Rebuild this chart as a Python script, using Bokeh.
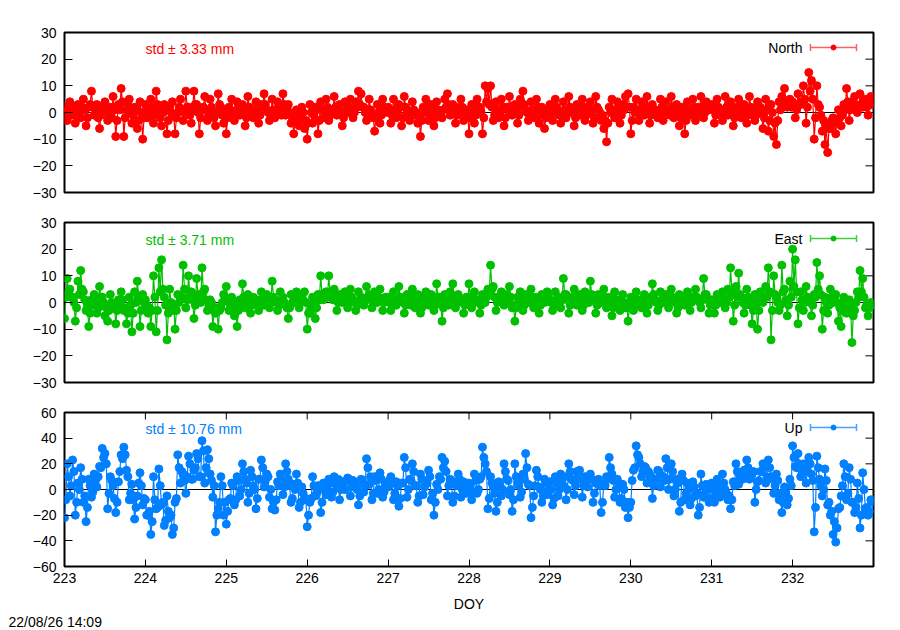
import math
from bokeh.plotting import figure
from bokeh.layouts import column
from bokeh.models import FixedTicker, Span, Label, Range1d
from bokeh.embed import file_html
from bokeh.resources import INLINE

# ---------------- data (mm), 60 solutions per day, DOY 223..232 ----------------
SAMPLES_PER_DAY = 60
FIRST_DOY = 223

north = [
    2,0, -3,1, 4,-1, 1,2, -4,-1, 3,0, -2,2, 5,1, -5,-2, 2,3, 8,2, -1,0, 3,-2, -6,-1, 1,2, 4,0, -3,1, 2,-2, 6,1, -9,-3, 3,1, 9,4, -9,-2, 1,3, 5,0, -4,-1, 2,1, -6,-3, 4,0, -10,-2,
    3,1, -2,0, 5,2, -4,-1, 8,3, 1,-2, -5,0, 3,1, -8,-3, 2,0, 4,-1, -8,-2, 0,2, 5,1, -3,0, 8,2, 2,-1, -4,1, 8,3, 3,0, -8,-2, 1,2, 6,1, -3,-1, 5,2, 0,-2, -5,0, 7,3, 2,-1, -4,0,
    -8,-2, 2,1, 5,0, -3,-1, 4,2, -1,0, 3,1, -5,-2, 6,2, 0,-1, -2,1, 4,0, -4,-1, 3,2, 7,3, 1,0, -3,-1, 5,1, -2,0, 4,2, 2,-1, 7,3, -1,1, 3,0, -4,-2, -8,-3, 1,0, -5,-2, 2,0, -6,-3,
    -10,-4, 3,0, -4,-1, 2,1, -8,-3, 4,1, -2,0, 5,2, -3,-1, 1,0, 6,2, -1,1, 3,0, -5,-2, 4,1, 0,2, 5,1, -2,0, 4,2, 8,3, 7,2, 2,0, -3,-1, 5,1, -1,-2, -7,-2, 3,0, -4,-1, 5,2, 0,1,
    2,0, -4,-1, 5,1, -2,0, 3,2, -5,-2, 6,2, 1,0, -3,-1, 4,1, -1,0, -4,-2, -9,-3, 2,0, 5,1, -3,-1, 3,1, -5,-2, 4,1, 0,-1, -2,1, 5,2, 7,3, -1,0, 3,1, -4,-1, 2,0, 5,2, -3,-1, 1,0,
    -8,-2, 3,0, -4,-1, 5,2, 2,0, -8,-2, 10,4, 9,3, 10,2, -3,-1, 4,1, -2,0, 5,2, -5,-2, 2,1, 6,2, -1,0, 3,1, -4,-1, 5,2, 8,3, 1,0, -3,-1, 4,1, -2,0, 5,2, -4,-1, 2,0, -6,-2, -1,1,
    3,1, -3,0, 5,2, 1,-1, -4,-1, 4,1, -2,0, 6,2, 0,1, -5,-2, 3,0, -1,1, 5,2, -3,-1, 2,0, 4,1, -4,-2, 6,2, 1,0, -3,-1, -6,-3, -11,-4, 2,0, 5,1, -2,0, 4,2, -4,-1, 3,1, 6,2, 7,2,
    -8,-3, 2,0, 5,1, -3,-1, 4,2, -1,0, 6,2, -4,-1, 3,1, 1,0, -2,-1, 5,2, -3,0, 4,1, 0,-1, 6,2, -2,0, 3,1, -5,-2, 2,0, -8,-3, 4,1, -1,0, 5,2, -3,-1, 2,1, 6,2, -2,0, 4,1, 1,2,
    3,1, -4,-1, 5,2, 1,0, -3,-1, 6,2, -1,0, 4,1, -5,-2, 2,0, 5,2, -2,0, 3,1, -4,-1, 6,2, 0,1, -3,-1, 4,2, 2,0, -6,-2, 5,1, -7,-3, 3,0, -9,-4, -12,-3, 4,1, 6,3, 9,4, 2,3, 5,2,
    4,2, -2,1, 7,3, 3,4, 10,5, -4,2, 15,8, 12,5, -10,-2, 10,3, 2,-1, -7,-3, -12,-5, -15,-6, -6,-3, -2,-4, -8,-3, 1,-2, -5,-1, 3,1, 9,4, -3,1, 4,2, 6,3, 0,2, 7,3, 2,4, 5,2, -1,3, 6,3,
]

east = [
    -6,2, 9,4, 5,2, 2,0, -7,-2, 8,3, 12,5, 4,1, -3,-1, -9,-4, 1,-1, 3,0, -4,-2, 6,2, 2,0, -5,-2, -7,-3, 3,0, -2,-1, -8,-3, 1,-1, 4,1, -3,-2, -8,-4, 2,-1, -11,-4, 4,0, 8,2, -9,-3, 3,0,
    1,-1, -4,-2, -9,-3, 10,2, -11,-3, 13,4, 16,5, 2,-1, -14,-4, 5,0, -3,-1, -10,-3, 3,0, 1,2, 14,5, -2,1, 10,3, 4,1, -6,-1, 9,3, 2,0, 13,4, 5,1, -3,-1, 1,0, -9,-3, -4,-2, -10,-3, -2,0, 3,1,
    6,1, -3,-1, 2,0, -5,-2, -9,-3, 1,0, 7,2, -2,-1, 3,1, -4,-1, 2,0, 0,1, -3,-1, 4,1, -1,0, 3,1, -2,0, 8,2, 1,0, -3,-1, 4,1, 2,0, -1,-2, -6,-2, 3,0, 0,1, 4,1, -2,0, 2,1, 4,0,
    -10,-4, -4,-2, 2,0, -6,-2, 3,1, 10,3, 1,2, 4,2, 10,3, 2,1, 5,2, -3,0, 3,1, 0,2, 4,1, -2,0, 5,2, 1,0, -3,-1, 4,1, 2,0, -1,1, 6,2, 3,1, -2,0, 4,1, 0,2, 5,1, -3,0, 2,1,
    2,0, -3,-1, 4,1, -1,0, 6,2, 1,0, -4,-1, 3,1, 0,-1, 5,2, -2,0, 3,1, -4,-2, 2,0, 4,1, -1,0, 3,1, -3,-1, 7,2, 2,0, -7,-2, 3,1, 0,-1, 4,1, 7,2, -2,0, 3,1, 1,0, -4,-1, 2,0,
    7,2, -2,0, 4,1, 1,0, -4,-1, 3,1, 0,2, 5,3, 14,5, 6,2, -3,0, 2,1, 4,2, -1,0, 3,1, 6,2, -2,-1, -7,-2, 2,0, 4,1, -3,-1, 3,1, 1,0, 5,2, -2,-1, 2,0, -4,-1, 3,1, 0,1, 4,2,
    1,0, -3,-1, 4,1, 2,0, -2,1, 9,3, 3,1, -4,-1, 2,0, 5,2, -1,0, 3,1, -3,-1, 4,2, 1,0, 8,3, 2,1, -4,-1, 3,0, 0,1, 5,2, -2,0, 2,1, -5,-2, 4,1, 1,0, -3,-1, 3,0, -2,-1, -7,-2,
    2,0, -3,-1, 4,1, 1,0, -2,-1, 3,1, -4,-1, 2,1, 7,3, 1,0, -3,-1, 4,1, 0,2, 3,1, -2,0, 5,2, 1,0, -4,-2, 3,1, 2,0, -1,1, 4,2, -3,0, 2,1, 5,2, 1,0, -2,1, 9,3, 3,1, -4,-1,
    1,0, -4,-1, 3,1, 0,2, 4,1, -2,0, 5,2, 13,4, -7,-1, 6,2, 11,3, 2,0, -4,-1, 5,2, 1,-1, -8,-3, 3,0, -10,-3, 4,1, 0,2, 6,2, 13,4, -14,-3, 10,3, 2,0, -3,-1, 14,4, 5,1, -5,-1, 8,2,
    20,6, 16,4, -8,-2, 4,1, -3,0, 6,2, 1,0, -5,-1, 3,2, 15,5, 10,3, -10,-3, 2,0, -4,-1, 5,2, 0,1, 3,0, -7,-2, -9,-3, 2,0, -4,-2, 1,-1, -15,-5, -3,0, 4,2, 12,4, 9,2, -2,-1, -5,-2, 0,-1,
]

up = [
    -22,-8, 20,10, -5,3, 23,14, -20,-10, 5,0, 17,8, -10,-5, -25,-14, 8,3, -6,-2, 12,7, 2,10, 18,17, 32,25, 28,20, -15,-3, 10,7, 3,-7, -18,-10, 6,14, 27,24, 33,27, 15,10, -8,-3, 4,-8, -23,-14, -5,5, 13,3, -12,-7,
    -8,-20, -20,-17, -35,-25, 10,-8, -15,-14, 16,3, -12,-10, -28,-24, -5,-17, -22,-20, -35,-30, -10,-7, 27,17, 5,14, 12,7, -3,10, 26,20, 8,8, 15,17, 28,24, 10,10, 38,30, 5,17, 31,24, 12,7, -6,3, -33,-20, -15,-10, 10,3, -20,-10,
    -27,-17, -8,-7, 5,3, -12,-8, 10,7, -5,0, 20,14, 8,5, -10,-3, 15,10, 3,0, -15,-7, 8,8, 23,17, 2,7, 12,10, -6,0, -15,-10, -16,-8, 6,3, 12,8, -4,2, 20,14, 8,3, -10,-7, 4,0, 12,5, -14,-10, 2,-3, -8,-7,
    -29,-20, -10,-7, 10,3, -5,-3, 3,0, -18,-10, 5,3, -4,0, 8,5, -6,-2, 10,7, 2,8, -8,0, 6,5, 0,7, 9,8, -5,2, 7,5, 3,0, -12,-5, 8,7, -2,3, 24,17, 4,10, -8,-3, 10,7, -3,0, 13,8, -6,-2, 4,3,
    2,7, 10,5, -8,-3, 6,3, -13,-7, 5,5, 25,17, -6,0, 8,7, 20,14, 3,3, -10,-5, 12,8, -4,2, 6,5, 15,10, -8,-3, -20,-10, 4,0, 10,8, 25,17, 22,14, -5,3, 8,7, -10,-5, 4,3, 12,8, -6,0, 6,5, -3,0,
    5,3, -8,-3, 12,7, -3,0, 8,10, 33,25, 20,14, -15,-7, 10,5, 2,-3, -17,-10, 6,3, -5,0, 20,14, 8,7, -4,0, -17,-8, 20,10, 5,3, -6,-2, 12,8, 28,17, 4,3, -22,-14, -5,3, 15,10, 2,0, -10,-5, 8,5, -4,0,
    6,0, -12,-7, 10,5, -5,0, 12,8, 3,10, -8,0, 20,14, 8,7, -4,3, 14,10, 15,8, -6,3, 10,7, 2,10, 12,8, -10,-3, 5,5, 8,3, -18,-10, 4,3, 10,8, 25,17, 12,7, -6,0, 8,5, -10,-7, 4,0, -14,-10, -22,-14,
    -10,7, 15,17, 34,27, 25,20, 10,14, 18,17, 5,14, 12,10, -7,3, 8,8, 15,14, 2,10, 10,7, 24,17, 0,8, 20,14, -5,0, 8,5, -17,-10, 12,7, -8,-3, 5,0, -12,-7, 6,2, -5,-3, -20,-14, 12,3, -6,-3, 4,0, -10,-7,
    5,0, -10,-5, 8,3, -6,0, 12,5, 0,-3, -8,-5, -15,-8, 6,3, 20,14, 4,10, 10,8, 15,14, 23,17, 8,10, 12,14, -10,0, 6,7, 14,14, 20,17, 5,10, 23,17, 10,8, -3,3, 12,7, -8,-3, -18,-10, 2,-3, -12,-7, 8,3,
    34,25, 18,17, 28,20, 10,14, 20,17, 5,14, 25,20, 12,7, -33,-14, 26,17, 8,3, -5,0, 16,7, -12,-10, -20,-17, -35,-25, -41,-30, -15,-14, -5,3, 20,10, -8,-3, 17,8, -10,-10, -18,-14, 5,-7, -30,-20, 13,0, -15,-14, -20,-17, -8,-10,
]

doy = [FIRST_DOY + i / SAMPLES_PER_DAY for i in range(len(north))]

x_ticks = [223, 224, 225, 226, 227, 228, 229, 230, 231, 232]
ne_ticks = [-30, -20, -10, 0, 10, 20, 30]
up_ticks = [-60, -40, -20, 0, 20, 40, 60]

std_north, std_east, std_up = "3.33", "3.71", "10.76"
title_text = "Coordinate repeatability of STR2"
x_title = "DOY"
stamp_text = "22/08/26 14:09"

# ---------------- layout (page pixels) ----------------
X0, X1 = 223, 233
FX0, FX1 = 64, 873
W = 890
FONT = "Liberation Sans"
FS = "14px"
MARK = 8

panels = [
    dict(name="North", label="North [mm]", data=north, color="#ff0000", leg="#ff6060",
         yr=(-30, 30), ticks=ne_ticks, std=std_north, fy0=32, fy1=192, top=32, bottom=15, h=207,
         key_y=47, std_y=48),
    dict(name="East", label="East [mm]", data=east, color="#00c000", leg="#40d040",
         yr=(-30, 30), ticks=ne_ticks, std=std_east, fy0=222, fy1=382, top=15, bottom=15, h=190,
         key_y=238, std_y=239),
    dict(name="Up", label="Up [mm]", data=up, color="#0080ff", leg="#4aa0ff",
         yr=(-60, 60), ticks=up_ticks, std=std_up, fy0=412, fy1=566, top=15, bottom=48, h=217,
         key_y=427, std_y=428),
]

def style_axis(ax):
    ax.axis_line_color = None
    ax.major_tick_in = 8
    ax.major_tick_out = 0
    ax.minor_tick_line_color = None
    ax.major_tick_line_color = "black"
    ax.major_tick_line_width = 1
    ax.major_label_text_font = FONT
    ax.major_label_text_color = "black"
    ax.major_label_text_font_size = FS

mx = lambda px: X0 + (px - FX0) / (FX1 - FX0) * (X1 - X0)

figs = []
for k, pn in enumerate(panels):
    last = (k == len(panels) - 1)
    p = figure(width=W, height=pn["h"], x_range=Range1d(X0, X1),
               y_range=Range1d(*pn["yr"]), output_backend="svg",
               toolbar_location=None, title=None,
               x_axis_location="below" if last else None,
               min_border_left=FX0, min_border_right=W - FX1,
               min_border_top=pn["top"], min_border_bottom=pn["bottom"])
    p.grid.visible = False
    p.outline_line_color = "black"
    p.outline_line_width = 2
    p.outline_line_alpha = 1
    p.background_fill_color = "white"
    p.border_fill_color = "white"

    yl = p.yaxis[0]
    yl.ticker = FixedTicker(ticks=pn["ticks"])
    style_axis(yl)
    yl.major_label_standoff = 8

    fy0, fy1 = pn["fy0"], pn["fy1"]
    ylo, yhi = pn["yr"]
    my = lambda py, fy0=fy0, fy1=fy1, ylo=ylo, yhi=yhi: yhi - (py - fy0) / (fy1 - fy0) * (yhi - ylo)

    # mirrored (inward) ticks on the right side
    tk = pn["ticks"]
    p.segment(x0=[mx(FX1 - 8)] * len(tk), y0=tk, x1=[X1] * len(tk), y1=tk,
              line_color="black", line_width=1)

    if last:
        xb = p.xaxis[0]
        xb.ticker = FixedTicker(ticks=x_ticks)
        style_axis(xb)
        xb.major_tick_in = 7
        xb.major_label_standoff = 6
        xb.axis_label = x_title
        xb.axis_label_text_font = FONT
        xb.axis_label_text_font_size = FS
        xb.axis_label_text_font_style = "normal"
        xb.axis_label_text_color = "black"
        xb.axis_label_standoff = 10
        # mirrored ticks on top edge
        p.segment(x0=x_ticks, y0=[yhi] * len(x_ticks), x1=x_ticks,
                  y1=[my(fy0 + 7)] * len(x_ticks), line_color="black", line_width=1)

    p.add_layout(Span(location=0, dimension="width", line_color="black",
                      line_width=1, level="underlay"))

    c = pn["color"]
    p.line(doy, pn["data"], line_color=c, line_width=1.2)
    p.scatter(doy, pn["data"], marker="circle", size=MARK, fill_color=c, line_color=c)

    # key (gnuplot style: label then sample)
    ky = pn["key_y"]
    p.segment(x0=[mx(810)], y0=[my(ky)], x1=[mx(856)], y1=[my(ky)], line_color=pn["leg"], line_width=1.5)
    p.segment(x0=[mx(810), mx(856)], y0=[my(ky - 3.5)] * 2, x1=[mx(810), mx(856)],
              y1=[my(ky + 3.5)] * 2, line_color=pn["leg"], line_width=1.5)
    p.scatter([mx(833)], [my(ky)], marker="circle", size=5, fill_color=c, line_color=c)
    p.add_layout(Label(x=mx(802), y=my(ky), text=pn["name"], text_align="right",
                       text_baseline="middle", text_font=FONT, text_font_size=FS,
                       text_color="black"))

    p.add_layout(Label(x=mx(145), y=my(pn["std_y"]), text="std \u00b1 " + pn["std"] + " mm",
                       text_align="left", text_baseline="middle", text_font=FONT,
                       text_font_size=FS, text_color=c))

    p.add_layout(Label(x=mx(17), y=my((fy0 + fy1) / 2), text=pn["label"], angle=math.pi / 2,
                       text_align="center", text_baseline="middle", text_font=FONT,
                       text_font_size=FS, text_color="black"))

    if k == 0:
        p.add_layout(Label(x=mx(450), y=my(12), text=title_text, text_align="center",
                           text_baseline="middle", text_font=FONT, text_font_size=FS,
                           text_color="black"))
    figs.append(p)

# footer strip (page y 614..628) holding the time stamp, kept outside the aligned column
FOOT_TOP, FOOT_H = 614, 14
foot = figure(width=W, height=FOOT_H, x_range=Range1d(0, W), y_range=Range1d(0, FOOT_H),
              output_backend="svg", toolbar_location=None, title=None,
              x_axis_location=None, y_axis_location=None,
              min_border_left=0, min_border_right=0, min_border_top=0, min_border_bottom=0)
foot.grid.visible = False
foot.outline_line_color = None
fy = lambda py: FOOT_TOP + FOOT_H - py
foot.add_layout(Label(x=8, y=fy(621), text=stamp_text, text_align="left",
                      text_baseline="middle", text_font=FONT, text_font_size=FS,
                      text_color="black"))

layout = column(column(*figs, spacing=0), foot, spacing=0)
open("out.html", "w").write(file_html(layout, INLINE))
